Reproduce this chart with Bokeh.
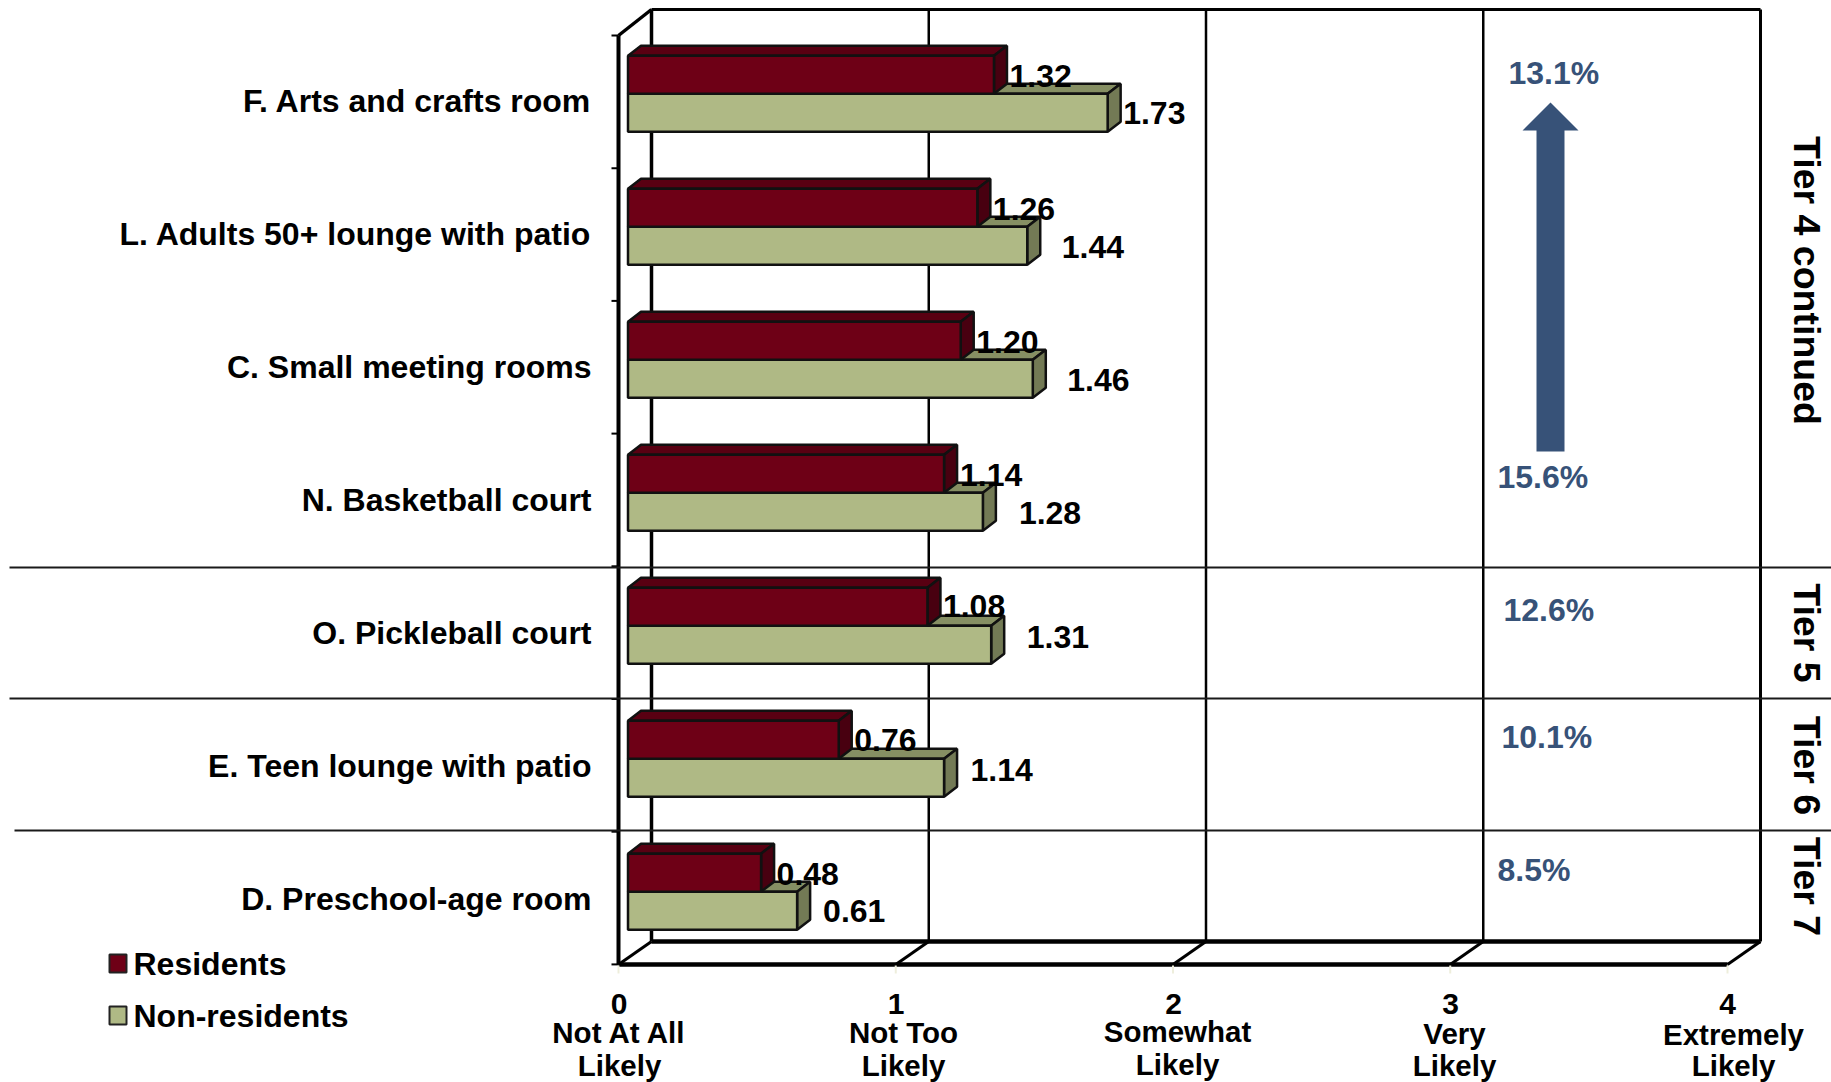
from math import pi

from bokeh.core.properties import value
from bokeh.embed import file_html
from bokeh.plotting import figure
from bokeh.resources import INLINE

# Survey means, top row first
categories = ["F. Arts and crafts room", "L. Adults 50+ lounge with patio", "C. Small meeting rooms",
              "N. Basketball court", "O. Pickleball court", "E. Teen lounge with patio", "D. Preschool-age room"]
residents = [1.32, 1.26, 1.20, 1.14, 1.08, 0.76, 0.48]
non_residents = [1.73, 1.44, 1.46, 1.28, 1.31, 1.14, 0.61]
percents = ["13.1%", "15.6%", "12.6%", "10.1%", "8.5%"]
scale_numbers = ["0", "1", "2", "3", "4"]
scale_words = [["Not At All", "Likely"], ["Not Too", "Likely"], ["Somewhat", "Likely"], ["Very", "Likely"],
               ["Extremely", "Likely"]]
tiers = ["Tier 4 continued", "Tier 5", "Tier 6", "Tier 7"]
legend_names = ["Residents", "Non-residents"]

# Page layout in screen pixels
WIDTH, HEIGHT = 1831, 1082
X0, UNIT_X = 618.0, 277.25   # front floor edge: position of 0 and size of one scale point
Y0, UNIT_Y = 964.0, 133.0    # front floor edge and height of one category band


def dx(px):
    return (px - X0) / UNIT_X


def dy(py):
    return (Y0 - py) / UNIT_Y


MAROON, MAROON_TOP, MAROON_SIDE = "#6E0016", "#590012", "#480010"
OLIVE, OLIVE_TOP, OLIVE_SIDE = "#AFB985", "#868F63", "#737A55"
BLUE = "#375278"
INK = "#000000"
FONT = value("Liberation Sans")

p = figure(width=WIDTH, height=HEIGHT, output_backend="svg", toolbar_location=None, min_border=0,
           x_range=(dx(0), dx(WIDTH)), y_range=(dy(HEIGHT), dy(0)), background_fill_color="white",
           outline_line_color=None)
p.axis.visible = False
p.grid.visible = False

# Box depth of the chart walls, in data units
WALL_X, WALL_Y = 33 / UNIT_X, 23 / UNIT_Y
top = dy(9)
ceil_front = dy(35)
ticks = [0, 1, 2, 3, 4]

# Back wall and gridlines
p.segment([t + WALL_X for t in ticks], WALL_Y, [t + WALL_X for t in ticks], top, line_color=INK,
          line_width=[3.5, 2.5, 2.5, 2.5, 3])
p.line([WALL_X, 4 + WALL_X], [top, top], line_color=INK, line_width=3)

# Floor
p.line([0, 4], [0, 0], line_color=INK, line_width=4.5)
p.line([WALL_X, 4 + WALL_X], [WALL_Y, WALL_Y], line_color=INK, line_width=4.5)
p.segment(ticks, 0, [t + WALL_X for t in ticks], WALL_Y, line_color=INK, line_width=3)

# Left wall
p.line([0, 0], [0, ceil_front], line_color=INK, line_width=4)
p.line([0, WALL_X], [ceil_front, top], line_color=INK, line_width=3.5)
p.segment(dx(611), [dy(35 + i * 132.7) for i in range(8)], 0, [dy(35 + i * 132.7) for i in range(8)],
          line_color=INK, line_width=2)
p.segment(ticks, dy(965), ticks, dy(973), line_color="#EEEEDC", line_width=2)

# Tier separators
p.segment([dx(9), dx(9), dx(14)], [dy(567), dy(698), dy(830)], dx(WIDTH), [dy(567), dy(698), dy(830)],
          line_color="#1A1A1A", line_width=2)

# Bars with their depth faces
BAR_LEFT = 9.5 / UNIT_X
BAR_H = 38 / UNIT_Y
DEPTH_X, DEPTH_Y = 13 / UNIT_X, 10 / UNIT_Y
BOTTOM_OF_LOWEST = 0.262
rows = range(len(categories))


def box_faces(lengths, lows):
    front_x, front_y, top_x, top_y, side_x, side_y = [], [], [], [], [], []
    for v, y in zip(lengths, lows):
        l, r = BAR_LEFT, BAR_LEFT + v
        front_x.append([l, r, r, l])
        front_y.append([y, y, y + BAR_H, y + BAR_H])
        top_x.append([l, r, r + DEPTH_X, l + DEPTH_X])
        top_y.append([y + BAR_H, y + BAR_H, y + BAR_H + DEPTH_Y, y + BAR_H + DEPTH_Y])
        side_x.append([r, r + DEPTH_X, r + DEPTH_X, r])
        side_y.append([y, y + DEPTH_Y, y + BAR_H + DEPTH_Y, y + BAR_H])
    return front_x, front_y, top_x, top_y, side_x, side_y


low_olive = [BOTTOM_OF_LOWEST + (len(categories) - 1 - i) for i in rows]
low_maroon = [y + BAR_H for y in low_olive]

for i in rows:
    for v, y, (c_front, c_top, c_side) in (
        (non_residents[i], low_olive[i], (OLIVE, OLIVE_TOP, OLIVE_SIDE)),
        (residents[i], low_maroon[i], (MAROON, MAROON_TOP, MAROON_SIDE)),
    ):
        fx, fy, tx, ty, sx, sy = box_faces([v], [y])
        p.patches(tx, ty, fill_color=c_top, line_color="#111111", line_width=2.5)
        p.patches(sx, sy, fill_color=c_side, line_color="#111111", line_width=2.5)
        p.patches(fx, fy, fill_color=c_front, line_color="#111111", line_width=2.5)


def label(xs, ys, texts, size="32px", color=INK, align="left", **kw):
    p.text(xs, ys, text=texts, text_font=FONT, text_font_style="bold", text_font_size=size, text_color=color,
           text_align=align, text_baseline="middle", **kw)


# Category names
label([dx(591)] * 7, [dy(100.5 + i * 133) for i in rows], categories, align="right")

# Value labels sit beside their bars; the gaps are screen pixels after the bar end
gap_res = [15.5, 15.5, 15.5, 16, 15.5, 15.5, 15.5]
gap_non = [15.5, 34.5, 34.5, 36, 35.5, 26.5, 26]
label([BAR_LEFT + v for v in residents], [dy(75), dy(208), dy(341), dy(474), dy(605), dy(739), dy(873)],
      [f"{v:.2f}" for v in residents], x_offset=gap_res)
label([BAR_LEFT + v for v in non_residents], [dy(112), dy(246), dy(379), dy(512), dy(636), dy(769), dy(910)],
      [f"{v:.2f}" for v in non_residents], x_offset=gap_non)

# Percentages and the trend arrow
label([dx(1508), dx(1497), dx(1503), dx(1501), dx(1497)], [dy(72.5), dy(476.5), dy(609), dy(736), dy(869)], percents,
      color=BLUE)
shaft_l, shaft_r, head_l, head_r, mid = dx(1536), dx(1564), dx(1522), dx(1578), dx(1550)
p.patch([shaft_l, shaft_r, shaft_r, head_r, mid, head_l, shaft_l],
        [dy(451), dy(451), dy(130), dy(130), dy(102), dy(130), dy(130)], fill_color=BLUE, line_color=None)

# Scale labels under the floor
num_x = [dx(618.5), dx(895.5), dx(1173), dx(1450), dx(1727)]
label(num_x, [dy(1003)] * 5, scale_numbers, size="30px", align="center")
word_x = [dx(619), dx(903), dx(1177), dx(1454), dx(1733)]
word_y1 = [dy(1032), dy(1032), dy(1031), dy(1033), dy(1034)]
word_y2 = [dy(1064.5), dy(1064.5), dy(1063.5), dy(1064.5), dy(1064.5)]
label(word_x, word_y1, [w[0] for w in scale_words], size="29.5px", align="center")
label(word_x, word_y2, [w[1] for w in scale_words], size="29.5px", align="center")

# Tier captions run down the right edge
label([dx(1806)] * 4, [dy(280), dy(632.5), dy(765), dy(886)], tiers, size="37.5px", align="center", angle=-pi / 2)

# Legend
legend_y = [dy(963), dy(1015)]
half = 9 / UNIT_Y
p.quad(left=[dx(109)] * 2, right=[dx(126)] * 2, bottom=[y - half for y in legend_y], top=[y + half for y in legend_y],
       fill_color=[MAROON, OLIVE], line_color="#222222", line_width=2)
label([dx(133)] * 2, legend_y, legend_names)

open("out.html", "w").write(file_html(p, INLINE))
